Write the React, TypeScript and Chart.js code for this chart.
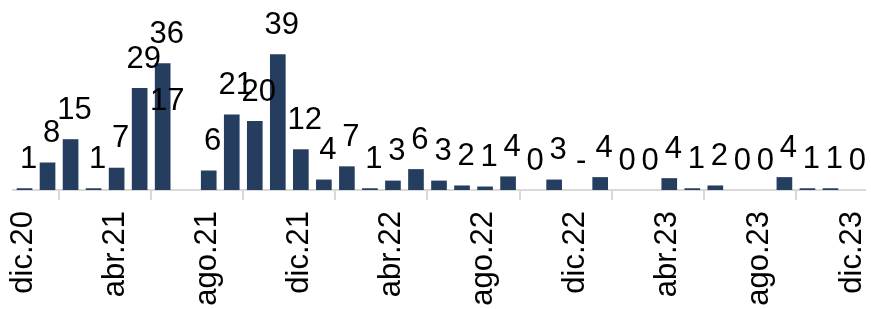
import { useEffect, useRef } from 'react';
import { Chart, registerables } from 'chart.js';

Chart.register(...registerables);

const months = [
  'dic.20', 'ene.21', 'feb.21', 'mar.21', 'abr.21', 'may.21', 'jun.21', 'jul.21', 'ago.21', 'sep.21', 'oct.21', 'nov.21',
  'dic.21', 'ene.22', 'feb.22', 'mar.22', 'abr.22', 'may.22', 'jun.22', 'jul.22', 'ago.22', 'sep.22', 'oct.22', 'nov.22',
  'dic.22', 'ene.23', 'feb.23', 'mar.23', 'abr.23', 'may.23', 'jun.23', 'jul.23', 'ago.23', 'sep.23', 'oct.23', 'nov.23',
  'dic.23',
];

// bar heights
const values: (number | null)[] = [
  0.5, 7.9, 14.6, 0.5, 6.4, 29.3, 36.4, null, 5.6, 21.7, 19.8, 39, 11.7,
  3.0, 6.8, 0.5, 2.7, 6.0, 2.7, 1.3, 1.0, 3.9, 0, 3.0, null,
  3.7, 0, 0, 3.4, 0.5, 1.3, 0, 0, 3.7, 0.5, 0.5, 0,
];

// data labels as printed above the bars
const valueLabels = [
  '1', '8', '15', '1', '7', '29', '36', '17', '6', '21', '20', '39', '12',
  '4', '7', '1', '3', '6', '3', '2', '1', '4', '0', '3', '-',
  '4', '0', '0', '4', '1', '2', '0', '0', '4', '1', '1', '0',
];

const FONT = "'Liberation Sans', Arial, sans-serif";
const BAR_COLOR = '#253D5F';

const labelPlugin = {
  id: 'barLabels',
  afterDatasetsDraw(chart: any) {
    const { ctx, scales } = chart;
    const x = scales.x;
    const y = scales.y;
    ctx.save();
    ctx.font = `31px ${FONT}`;
    ctx.fillStyle = '#000';
    ctx.textAlign = 'center';
    ctx.textBaseline = 'alphabetic';
    valueLabels.forEach((txt, i) => {
      const v = values[i];
      const anchor = v ?? (parseFloat(txt) || 0);
      const shift = i === 7 ? -18.5 : 4;
      ctx.fillText(txt, x.getPixelForValue(i + 0.5) + shift, y.getPixelForValue(anchor) - 20.5);
    });
    ctx.restore();
  },
};

export default function App() {
  const ref = useRef<HTMLCanvasElement | null>(null);

  useEffect(() => {
    if (!ref.current) return;
    Chart.defaults.font.family = FONT;
    const chart = new Chart(ref.current, {
      type: 'bar',
      data: {
        datasets: [
          {
            data: months.map((m, i) => ({ x: i + 0.5, y: values[i] })) as any,
            backgroundColor: BAR_COLOR,
            borderWidth: 0,
            barPercentage: 0.68,
            categoryPercentage: 1,
          },
        ],
      },
      options: {
        responsive: false,
        animation: false,
        events: [],
        layout: { padding: { left: 13, right: 6, top: 0, bottom: 0 } },
        plugins: { legend: { display: false }, tooltip: { enabled: false } },
        scales: {
          x: {
            type: 'linear',
            min: 0,
            max: months.length,
            offset: false,
            afterFit: (s: any) => {
              s.height = 119;
              s.paddingLeft = 0;
              s.paddingRight = 0;
            },
            border: { display: true, color: '#d9d9d9', width: 2 },
            grid: {
              drawOnChartArea: false,
              drawTicks: true,
              tickLength: 10,
              color: '#d9d9d9',
              lineWidth: 2,
            },
            ticks: {
              stepSize: 4,
              includeBounds: false,
              autoSkip: false,
              maxRotation: 90,
              minRotation: 90,
              labelOffset: 10,
              padding: 11,
              color: '#000',
              font: { size: 31, family: FONT },
              callback: (v: any) => months[v as number] ?? '',
            },
          },
          y: {
            display: false,
            min: 0,
            max: 54.6,
          },
        },
      },
      plugins: [labelPlugin],
    } as any);
    return () => chart.destroy();
  }, []);

  return (
    <div style={{ position: 'absolute', left: 0, top: 0, width: 871, height: 309 }}>
      <canvas ref={ref} width={871} height={309} style={{ display: 'block' }} />
    </div>
  );
}
